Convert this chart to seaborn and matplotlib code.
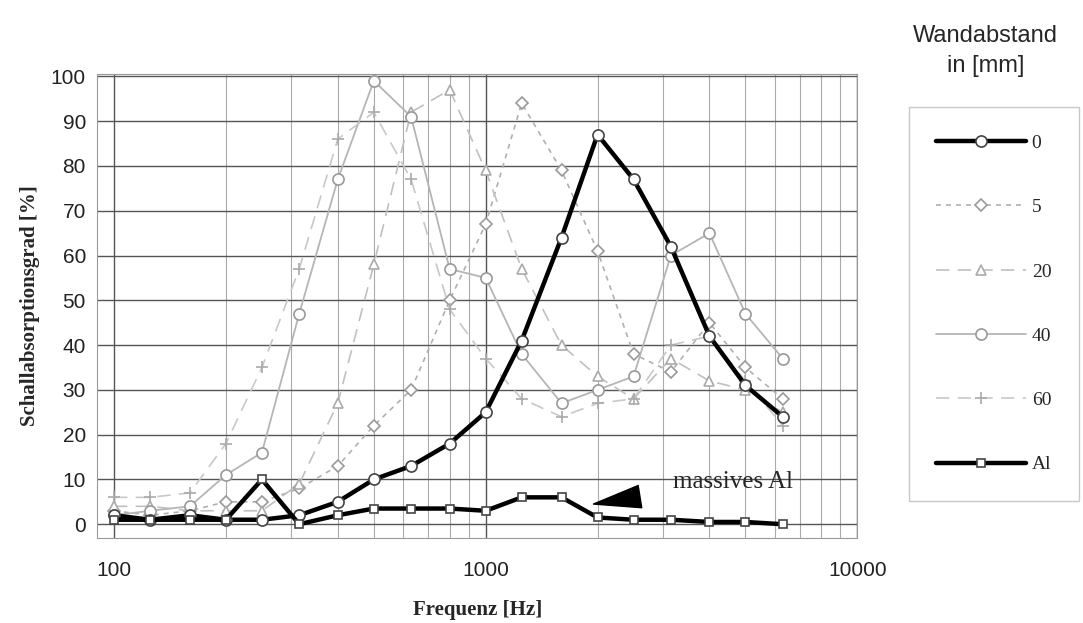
import numpy as np
import pandas as pd
import matplotlib
matplotlib.use("Agg")
import matplotlib.pyplot as plt
from matplotlib.ticker import FixedLocator, NullFormatter
import seaborn as sns

# Terzband-Mittenfrequenzen
freq = [100, 125, 160, 200, 250, 315, 400, 500, 630, 800, 1000,
        1250, 1600, 2000, 2500, 3150, 4000, 5000, 6300]

# Schallabsorptionsgrad in % je Wandabstand
a_0 = [2, 1, 2, 1, 1, 2, 5, 10, 13, 18, 25, 41, 64, 87, 77, 62, 42, 31, 24]
a_5 = [3, 2, 3, 5, 5, 8, 13, 22, 30, 50, 67, 94, 79, 61, 38, 34, 45, 35, 28]
a_20 = [4, 4, 3, 3, 3, 9, 27, 58, 92, 97, 79, 57, 40, 33, 28, 37, 32, 30, 25]
a_40 = [2, 3, 4, 11, 16, 47, 77, 99, 91, 57, 55, 38, 27, 30, 33, 60, 65, 47, 37]
a_60 = [6, 6, 7, 18, 35, 57, 86, 92, 77, 48, 37, 28, 24, 27, 28, 40, 42, 32, 22]
a_al = [1, 1, 1, 1, 10, 0, 2, 3.5, 3.5, 3.5, 3, 6, 6, 1.5, 1, 1, 0.5, 0.5, 0]

labels = ["0", "5", "20", "40", "60", "Al"]
werte = [a_0, a_5, a_20, a_40, a_60, a_al]

df = pd.DataFrame({
    "Frequenz": np.tile(freq, len(labels)),
    "Alpha": np.concatenate(werte),
    "Abstand": np.repeat(labels, len(freq)),
})

sns.set_style("white")
plt.rcParams["font.family"] = ["Liberation Sans", "DejaVu Sans"]
serif = ["Liberation Serif", "DejaVu Serif"]

# Linienstile wie im Original
stile = {
    "0":  dict(color="black", lw=3.2, ls="-", marker="o", ms=8, mec="#444444", mfc="white"),
    "5":  dict(color="#b0b0b0", lw=1.2, ls=(0, (3, 3)), marker="D", ms=6, mec="#999999", mfc="white"),
    "20": dict(color="#c0c0c0", lw=1.2, ls=(0, (8, 5)), marker="^", ms=7, mec="#aaaaaa", mfc="white"),
    "40": dict(color="#b5b5b5", lw=1.3, ls="-", marker="o", ms=8, mec="#999999", mfc="white"),
    "60": dict(color="#c8c8c8", lw=1.2, ls=(0, (8, 5)), marker="+", ms=8, mec="#aaaaaa", mfc="white"),
    "Al": dict(color="black", lw=3.2, ls="-", marker="s", ms=6, mec="#444444", mfc="white"),
}

fig = plt.figure(figsize=(10.83, 6.23), dpi=100)
ax = fig.add_axes([0.0896, 0.137, 0.702, 0.744])

for lab in labels:
    st = stile[lab]
    sub = df[df["Abstand"] == lab]
    sns.lineplot(data=sub, x="Frequenz", y="Alpha", ax=ax, label=lab,
                 color=st["color"], linewidth=st["lw"], linestyle=st["ls"],
                 marker=st["marker"], markersize=st["ms"],
                 markeredgecolor=st["mec"], markerfacecolor=st["mfc"],
                 markeredgewidth=1.2, zorder=3 if st["color"] == "black" else 2)

ax.set_xscale("log")
ax.set_xlim(90, 10000)
ax.set_ylim(-3, 100.5)
ax.xaxis.set_minor_locator(FixedLocator([m * d for d in (100, 1000) for m in range(2, 10)]))
ax.xaxis.set_minor_formatter(NullFormatter())
ax.set_xticks([100, 1000, 10000])
ax.set_xticklabels(["100", "1000", "10000"])
ax.set_yticks(range(0, 101, 10))

ax.grid(which="major", color="#555555", lw=1.0)
ax.grid(which="minor", axis="x", color="#aaaaaa", lw=0.8)
ax.set_axisbelow(True)
for sp in ax.spines.values():
    sp.set_color("#999999")
    sp.set_linewidth(0.8)
ax.tick_params(labelsize=15, length=0, pad=8, colors="#222222")
ax.tick_params(axis="x", pad=17)

ax.set_xlabel("Frequenz [Hz]", fontsize=15, fontweight="bold", family=serif, labelpad=14)
ax.set_ylabel("Schallabsorptionsgrad [%]", fontsize=15, fontweight="bold",
              family=serif, labelpad=8)

# Beschriftung "massives Al" mit Keilpfeil
ax.annotate("massives Al", xy=(1950, 4.5), xytext=(3200, 9.5),
            fontsize=18, family=serif, va="center", ha="left",
            arrowprops=dict(arrowstyle="wedge,tail_width=0.9,shrink_factor=0.5",
                            color="black", shrinkA=22, shrinkB=0))

# Legende rechts
fig.text(0.91, 0.918, "Wandabstand\nin [mm]", ha="center", va="center",
         fontsize=17, linespacing=1.5)
leg = ax.legend(loc="upper left", bbox_to_anchor=(915 / 1083, 1 - 113 / 623),
                bbox_transform=fig.transFigure, frameon=True,
                fontsize=14, handlelength=4.6, labelspacing=2.4,
                borderpad=1.1, handletextpad=0.3, borderaxespad=0)
leg.get_frame().set_edgecolor("#bbbbbb")
leg.get_frame().set_linewidth(1.0)
leg.get_frame().set_boxstyle("square")
for t in leg.get_texts():
    t.set_family(serif)

fig.savefig("out.png", dpi=100)
